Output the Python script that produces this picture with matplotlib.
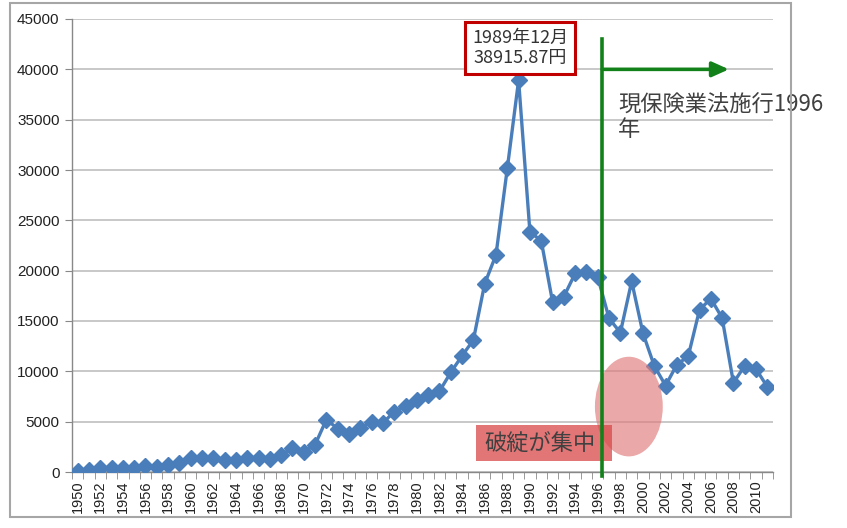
import matplotlib
matplotlib.use("Agg")
import matplotlib.pyplot as plt
from matplotlib.patches import Rectangle, Ellipse
import numpy as np

years = list(range(1950, 2012))
values = [101.91, 166.06, 362.64, 377.95, 356.09, 425.69, 549.14, 474.55, 666.54, 874.88,
          1356.71, 1432.60, 1420.43, 1225.10, 1216.55, 1417.83, 1432.94, 1283.47, 1714.89, 2358.96,
          1987.14, 2713.74, 5207.94, 4306.80, 3817.22, 4358.60, 4990.52, 4865.60, 6001.85, 6569.47,
          7116.38, 7681.84, 8016.67, 9893.82, 11542.60, 13113.32, 18701.30, 21564.00, 30159.00, 38915.87,
          23848.71, 22983.77, 16924.95, 17417.24, 19723.06, 19868.15, 19361.35, 15258.74, 13842.17, 18934.34,
          13785.69, 10542.62, 8578.95, 10676.64, 11488.76, 16111.43, 17225.83, 15307.78, 8859.56, 10546.44,
          10228.92, 8455.35]
yticks = list(range(0, 45001, 5000))
peak_label = "1989年12月\n38915.87円"
law_label = "現保険業法施行1996\n年"
fail_label = "破綻が集中"

jp = ['Noto Sans CJK JP', 'DejaVu Sans']
plt.rcParams['font.family'] = jp

W, H = 847, 528
fig = plt.figure(figsize=(W / 100, H / 100), dpi=100)
fig.patch.set_facecolor('white')

# outer border
fig.add_artist(Rectangle((10 / W, 1 - 517 / H), (791 - 10) / W, (517 - 3) / H,
                         transform=fig.transFigure, fill=False, edgecolor='#a6a6a6', lw=1.5))

ax = fig.add_axes([72 / W, 1 - 472 / H, (773 - 72) / W, (472 - 19) / H])
x = np.arange(len(years))
ax.plot(x, values, color='#4a7ebb', lw=2.4, marker='D', markersize=8,
        markerfacecolor='#4a7ebb', markeredgecolor='#4a7ebb', zorder=3)

ax.set_xlim(-0.5, len(years) - 0.5)
ax.set_ylim(0, 45000)
ax.set_yticks(yticks)
ax.set_yticklabels([str(v) for v in yticks], fontsize=11, color='#222222', family='Liberation Sans')
ax.set_xticks(x[::2])
ax.set_xticklabels([str(y) for y in years[::2]], rotation=90, fontsize=10.5,
                   color='#222222', family='Liberation Sans')
ax.set_xticks(np.arange(-0.5, len(years)), minor=True)
ax.tick_params(axis='x', which='major', length=0, pad=6)
ax.tick_params(axis='x', which='minor', length=5, color='#888888', direction='out')
ax.tick_params(axis='y', length=5, color='#888888', direction='out', pad=4)
ax.grid(axis='y', color='#bfbfbf', lw=1.2)
ax.set_axisbelow(True)
for s in ['top', 'right']:
    ax.spines[s].set_visible(False)
for s in ['left', 'bottom']:
    ax.spines[s].set_color('#888888')
    ax.spines[s].set_linewidth(1.0)

# ellipse
ax.add_patch(Ellipse((48.75, 6500), 6.0, 9900, facecolor='#e07a7a', alpha=0.65,
                     edgecolor='none', zorder=4, clip_on=False))
# failure box
ax.add_patch(Rectangle((35.2, 1100), 12.1, 3550, facecolor='#d94848', alpha=0.75,
                       edgecolor='none', zorder=4, clip_on=False))
ax.text(35.95, 2850, fail_label, fontsize=16, color='#404040', va='center', ha='left', zorder=6)

# green line + arrow
ax.plot([46.4, 46.4], [-400, 43000], color='#13811a', lw=2.6, zorder=5, clip_on=False)
ax.annotate('', xy=(57.6, 40000), xytext=(46.4, 40000),
            arrowprops=dict(arrowstyle='-|>,head_length=1.0,head_width=0.45',
                            color='#13811a', lw=2.6, shrinkA=0, shrinkB=0), zorder=5)
ax.text(47.8, 37600, law_label, fontsize=16, color='#404040', va='top', ha='left',
        linespacing=1.1, zorder=6)

# peak label box
fig.text(520 / W, 1 - 48 / H, peak_label, fontsize=13, color='#333333', ha='center', va='center',
         linespacing=1.15,
         bbox=dict(boxstyle='square,pad=0.4', facecolor='white', edgecolor='#c00000', lw=2.2))

fig.savefig('out.png', dpi=100, facecolor='white')
